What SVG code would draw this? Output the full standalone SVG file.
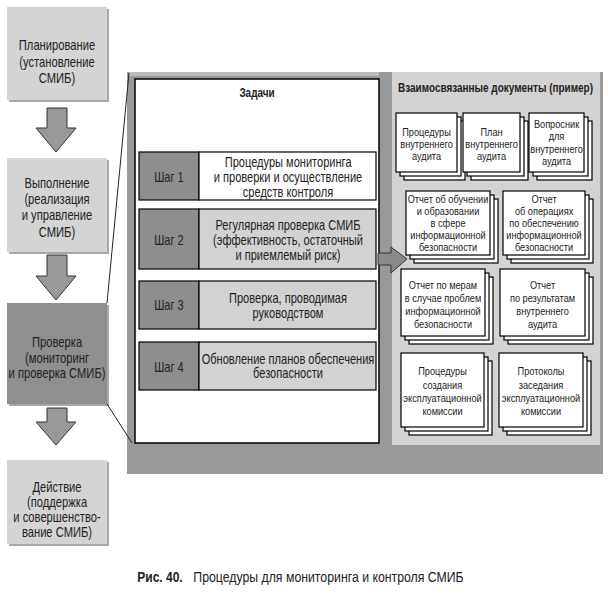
<svg xmlns="http://www.w3.org/2000/svg" width="608" height="593" viewBox="0 0 608 593">
<style>
text{font-family:"Liberation Sans Narrow","Liberation Sans",Arial,sans-serif;fill:#222;text-anchor:middle;transform-box:fill-box;transform-origin:center}
.lb{font-size:14px;transform:scaleX(.8)}
.st{font-size:14px;transform:scaleX(.79)}
.dc{font-size:11.5px;transform:scaleX(.8)}
.bd{font-weight:bold;font-size:12px;transform:scaleX(.83)}
.cap{font-size:15px;transform:scaleX(.82)}
.capb{font-size:15px;font-weight:bold;transform:scaleX(.8)}
.box{fill:#d4d4d4}
.shd{fill:#a8a8a8}
.dark{fill:#8f8f8f}
.sheet{fill:#fff;stroke:#000;stroke-width:1.2}
.stepl{fill:#8e8e8e;stroke:#000;stroke-width:1.2}
.stept{fill:#d2d2d2;stroke:#000;stroke-width:1.2}
.arr{fill:#999;stroke:#333;stroke-width:1}
</style>

<!-- Left column -->
<g id="plan">
<rect class="shd" x="9" y="9" width="100" height="93"/>
<rect class="box" x="7" y="7" width="100" height="93"/>
<text class="lb" x="57" y="50">Планирование</text>
<text class="lb" x="57" y="67">(установление</text>
<text class="lb" x="57" y="83">СМИБ)</text>
</g>
<g id="do">
<rect class="shd" x="9" y="160" width="100" height="94"/>
<rect class="box" x="7" y="158" width="100" height="94"/>
<text class="lb" x="57" y="188">Выполнение</text>
<text class="lb" x="57" y="204">(реализация</text>
<text class="lb" x="57" y="220">и управление</text>
<text class="lb" x="57" y="237">СМИБ)</text>
</g>
<g id="check">
<rect class="shd" x="9" y="305" width="100" height="101"/>
<rect class="dark" x="7" y="303" width="100" height="101"/>
<text class="lb" x="57" y="347">Проверка</text>
<text class="lb" x="57" y="363">(мониторинг</text>
<text class="lb" x="57" y="378">и проверка СМИБ)</text>
</g>
<g id="act">
<rect class="shd" x="9" y="462" width="100" height="84"/>
<rect class="box" x="7" y="460" width="100" height="84"/>
<text class="lb" x="57" y="492">Действие</text>
<text class="lb" x="57" y="507">(поддержка</text>
<text class="lb" x="57" y="522">и совершенство-</text>
<text class="lb" x="57" y="537">вание СМИБ)</text>
</g>

<!-- Frame -->
<g id="frame">
<rect x="127" y="72" width="476" height="402" fill="#999"/>
<rect x="129" y="72" width="250" height="4" fill="#bbb"/>
</g>

<g id="tasks">
<rect x="135" y="79" width="244" height="364" fill="#fff" stroke="#000" stroke-width="1.5"/>
<text class="bd" x="257" y="97">Задачи</text>
</g>
<g id="step1">
<rect class="stepl" x="139" y="152" width="60" height="48"/>
<rect class="stept" x="199" y="152" width="177" height="48" style="fill:#fff"/>
<text class="st" x="169" y="182">Шаг 1</text>
<text class="st" x="288" y="167">Процедуры мониторинга</text>
<text class="st" x="288" y="182">и проверки и осуществление</text>
<text class="st" x="288" y="197">средств контроля</text>
</g>
<g id="step2">
<rect class="stepl" x="139" y="209" width="60" height="60"/>
<rect class="stept" x="199" y="209" width="177" height="60"/>
<text class="st" x="169" y="245">Шаг 2</text>
<text class="st" x="288" y="230">Регулярная проверка СМИБ</text>
<text class="st" x="288" y="245">(эффективность, остаточный</text>
<text class="st" x="288" y="260">и приемлемый риск)</text>
</g>
<g id="step3">
<rect class="stepl" x="139" y="281" width="60" height="48"/>
<rect class="stept" x="199" y="281" width="177" height="48"/>
<text class="st" x="169" y="310">Шаг 3</text>
<text class="st" x="288" y="303">Проверка, проводимая</text>
<text class="st" x="288" y="318">руководством</text>
</g>
<g id="step4">
<rect class="stepl" x="139" y="342" width="60" height="48"/>
<rect class="stept" x="199" y="342" width="177" height="48"/>
<text class="st" x="169" y="372">Шаг 4</text>
<text class="st" x="288" y="364">Обновление планов обеспечения</text>
<text class="st" x="288" y="378">безопасности</text>
</g>

<g id="docs-panel">
<rect x="392" y="72" width="208" height="373" fill="#d3d3d3"/>
<text class="bd" x="495.5" y="92">Взаимосвязанные документы (пример)</text>
</g>

<g id="doc1">
<rect class="sheet" x="404" y="121" width="61" height="59"/>
<rect class="sheet" x="400" y="117" width="61" height="59"/>
<rect class="sheet" x="396" y="113" width="61" height="59"/>
<text class="dc" x="426.5" y="136">Процедуры</text>
<text class="dc" x="426.5" y="148">внутреннего</text>
<text class="dc" x="426.5" y="160">аудита</text>
</g>
<g id="doc2">
<rect class="sheet" x="471" y="121" width="57" height="59"/>
<rect class="sheet" x="467" y="117" width="57" height="59"/>
<rect class="sheet" x="463" y="113" width="57" height="59"/>
<text class="dc" x="491.5" y="136">План</text>
<text class="dc" x="491.5" y="148">внутреннего</text>
<text class="dc" x="491.5" y="160">аудита</text>
</g>
<g id="doc3">
<rect class="sheet" x="537" y="121" width="55" height="59"/>
<rect class="sheet" x="533" y="117" width="55" height="59"/>
<rect class="sheet" x="529" y="113" width="55" height="59"/>
<text class="dc" x="556.5" y="128">Вопросник</text>
<text class="dc" x="556.5" y="140.5">для</text>
<text class="dc" x="556.5" y="153">внутреннего</text>
<text class="dc" x="556.5" y="165.5">аудита</text>
</g>
<g id="doc4">
<rect class="sheet" x="414" y="199" width="84" height="64"/>
<rect class="sheet" x="410" y="195" width="84" height="64"/>
<rect class="sheet" x="406" y="191" width="84" height="64"/>
<text class="dc" x="448" y="203">Отчет об обучении</text>
<text class="dc" x="448" y="215">и образовании</text>
<text class="dc" x="448" y="227">в сфере</text>
<text class="dc" x="448" y="239">информационной</text>
<text class="dc" x="448" y="251">безопасности</text>
</g>
<g id="doc5">
<rect class="sheet" x="511" y="199" width="82" height="64"/>
<rect class="sheet" x="507" y="195" width="82" height="64"/>
<rect class="sheet" x="503" y="191" width="82" height="64"/>
<text class="dc" x="544" y="203">Отчет</text>
<text class="dc" x="544" y="215">об операциях</text>
<text class="dc" x="544" y="227">по обеспечению</text>
<text class="dc" x="544" y="239">информационной</text>
<text class="dc" x="544" y="251">безопасности</text>
</g>
<g id="doc6">
<rect class="sheet" x="409" y="277" width="84" height="67"/>
<rect class="sheet" x="405" y="273" width="84" height="67"/>
<rect class="sheet" x="401" y="269" width="84" height="67"/>
<text class="dc" x="443" y="289">Отчет по мерам</text>
<text class="dc" x="443" y="302">в случае проблем</text>
<text class="dc" x="443" y="315">информационной</text>
<text class="dc" x="443" y="328">безопасности</text>
</g>
<g id="doc7">
<rect class="sheet" x="508" y="277" width="85" height="67"/>
<rect class="sheet" x="504" y="273" width="85" height="67"/>
<rect class="sheet" x="500" y="269" width="85" height="67"/>
<text class="dc" x="542.5" y="289">Отчет</text>
<text class="dc" x="542.5" y="302">по результатам</text>
<text class="dc" x="542.5" y="315">внутреннего</text>
<text class="dc" x="542.5" y="328">аудита</text>
</g>
<g id="doc8">
<rect class="sheet" x="409" y="361" width="83" height="74"/>
<rect class="sheet" x="405" y="357" width="83" height="74"/>
<rect class="sheet" x="401" y="353" width="83" height="74"/>
<text class="dc" x="442.5" y="375">Процедуры</text>
<text class="dc" x="442.5" y="389">создания</text>
<text class="dc" x="442.5" y="402">эксплуатационной</text>
<text class="dc" x="442.5" y="415">комиссии</text>
</g>
<g id="doc9">
<rect class="sheet" x="507" y="361" width="84" height="74"/>
<rect class="sheet" x="503" y="357" width="84" height="74"/>
<rect class="sheet" x="499" y="353" width="84" height="74"/>
<text class="dc" x="541" y="375">Протоколы</text>
<text class="dc" x="541" y="389">заседания</text>
<text class="dc" x="541" y="402">эксплуатационной</text>
<text class="dc" x="541" y="415">комиссии</text>
</g>

<g id="connectors">
<polygon class="arr" points="47,108 67,108 67,128 76,128 56,152 36,128 47,128"/>
<polygon class="arr" points="47,255 67,255 67,276 76,276 56,300 36,276 47,276"/>
<polygon class="arr" points="47,408 67,408 67,422 76,422 56,445 36,422 47,422"/>
<polygon class="arr" points="378,253 391,253 391,247 407,259 391,273 391,265 378,265" style="fill:#8a8a8a"/>
<line x1="107" y1="303" x2="129" y2="73" stroke="#222" stroke-width="1"/>
<line x1="107" y1="404" x2="132" y2="443" stroke="#222" stroke-width="1"/>
</g>

<g id="caption">
<text class="capb" x="160" y="582">Рис. 40.</text>
<text class="cap" x="328.5" y="582">Процедуры для мониторинга и контроля СМИБ</text>
</g>
</svg>
